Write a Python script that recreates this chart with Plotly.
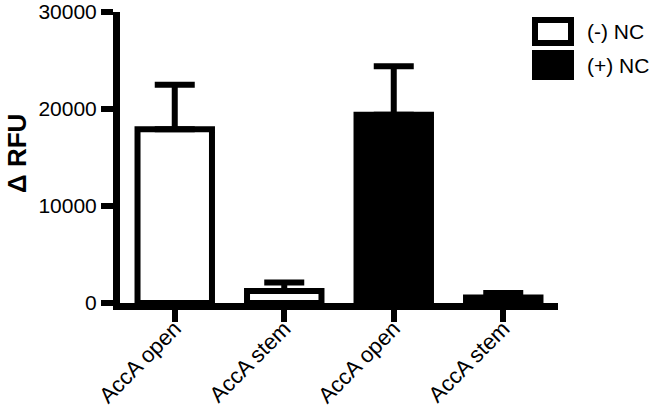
import plotly.graph_objects as go

# data
categories = ["AccA open", "AccA stem", "AccA open", "AccA stem"]
groups = ["(-) NC", "(-) NC", "(+) NC", "(+) NC"]
values = [17900, 1250, 19400, 570]
errors = [4600, 870, 5000, 460]
y_ticks = [0, 10000, 20000, 30000]
y_tick_labels = ["0", "10000", "20000", "30000"]

group_fill = {"(-) NC": "white", "(+) NC": "black"}

W, H = 657, 411
L, R, T, B = 120, 99, 12, 108
FONT = "Arial, Liberation Sans, Helvetica, sans-serif"


def px_x(x):
    return (x - L) / (W - L - R)


def px_y(y):
    return (H - B - y) / (H - T - B)


fig = go.Figure()
for g in ["(-) NC", "(+) NC"]:
    idx = [i for i, gg in enumerate(groups) if gg == g]
    fig.add_trace(go.Bar(
        x=idx,
        y=[values[i] for i in idx],
        name=g,
        width=0.68,
        marker=dict(color=group_fill[g], line=dict(color="black", width=6)),
        error_y=dict(type="data", symmetric=False,
                     array=[errors[i] for i in idx],
                     arrayminus=[0] * len(idx),
                     color="black", thickness=6, width=20),
        showlegend=False,
    ))

# legend drawn as large boxes like the original
legend_rows = [("(-) NC", 17, 46), ("(+) NC", 50, 80)]
for name, y0, y1 in legend_rows:
    fig.add_shape(type="rect", xref="paper", yref="paper",
                  x0=px_x(535), x1=px_x(571), y0=px_y(y1 - 3), y1=px_y(y0 + 3),
                  fillcolor=group_fill[name], line=dict(color="black", width=6))
    fig.add_annotation(xref="paper", yref="paper", x=px_x(585), y=px_y((y0 + y1) / 2),
                       text=name, showarrow=False, xanchor="left", yanchor="middle",
                       font=dict(size=21, color="black", family=FONT))

# y axis title placed by hand
fig.add_annotation(xref="paper", yref="paper", x=px_x(17), y=px_y(154),
                   text="<b>Δ RFU</b>", showarrow=False, textangle=-90,
                   xanchor="center", yanchor="middle",
                   font=dict(size=26, color="black", family=FONT))

fig.update_layout(
    template="none",
    width=W, height=H,
    margin=dict(l=L, r=R, t=T, b=B, autoexpand=False),
    paper_bgcolor="white", plot_bgcolor="white",
    barmode="overlay",
    font=dict(family=FONT, color="black", size=21),
)
fig.update_xaxes(
    range=[-0.5, 3.5],
    tickvals=list(range(len(categories))), ticktext=categories,
    tickangle=-45, automargin=False, ticklabelstandoff=-15,
    showline=True, linecolor="black", linewidth=7,
    ticks="outside", ticklen=12, tickwidth=6, tickcolor="black",
    showgrid=False, zeroline=False,
    tickfont=dict(size=22),
)
fig.update_yaxes(
    range=[0, 30000], automargin=False,
    tickvals=y_ticks, ticktext=y_tick_labels,
    showline=True, linecolor="black", linewidth=7,
    ticks="outside", ticklen=12, tickwidth=6, tickcolor="black",
    showgrid=False, zeroline=False,
    tickfont=dict(size=21),
)

# drop the browser's default 8px body margin so the figure fills the window
fig.write_html("out.html", config={"displayModeBar": False},
               post_script="document.body.style.margin = '0';")
